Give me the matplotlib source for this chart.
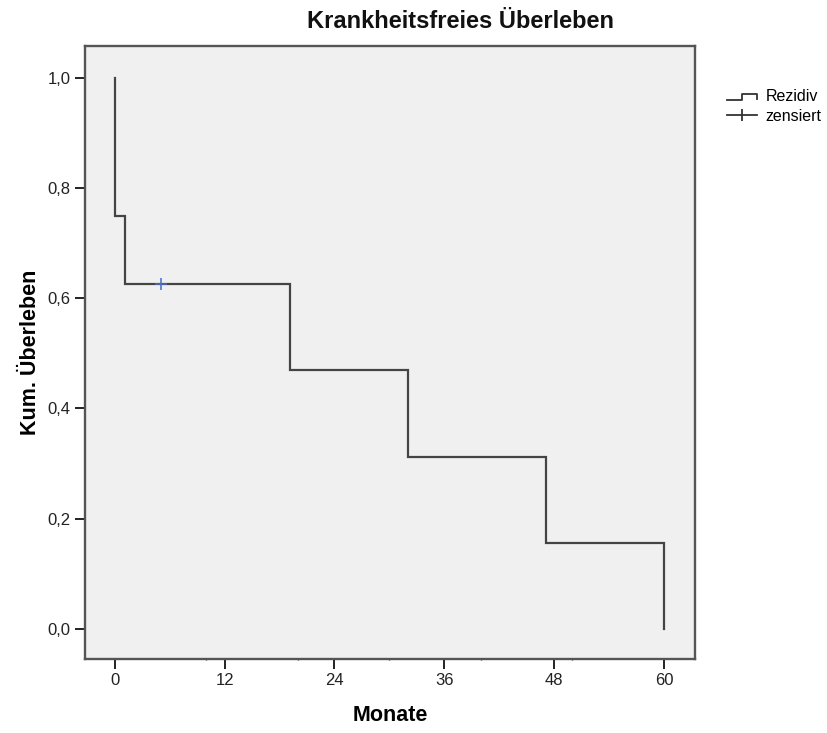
import numpy as np, matplotlib
matplotlib.use("Agg"); import matplotlib.pyplot as plt
from matplotlib.lines import Line2D
from matplotlib.legend_handler import HandlerBase

plt.rcParams["font.family"] = ["Liberation Sans", "DejaVu Sans"]

# Kaplan-Meier Stufen (Monate, Kum. Überleben)
times = [0, 0, 1.1, 19.1, 32, 47.1, 60]
surv = [1.0, 0.75, 0.625, 0.469, 0.3125, 0.156, 0.0]
cens_t = [5.0]
cens_s = [0.625]
xticks = [0, 12, 24, 36, 48, 60]
yticks = [0.0, 0.2, 0.4, 0.6, 0.8, 1.0]
LINE, CENS, BG, FRAME = "#444444", "#4a6cc8", "#f0f0f0", "#555555"


class StepHandler(HandlerBase):
    # Legendensymbol im SPSS-Stil: kleine Treppe
    def create_artists(self, legend, orig, xd, yd, w, h, fontsize, trans):
        xs = [xd, xd + w * 0.5, xd + w * 0.5, xd + w, xd + w]
        ys = [yd + h * 0.1, yd + h * 0.1, yd + h * 0.65, yd + h * 0.65, yd + h * 0.2]
        return [Line2D(xs, ys, color="#333333", lw=1.3, transform=trans)]


fig = plt.figure(figsize=(8.27, 7.33), dpi=100)
ax = fig.add_axes([84.7 / 827, 1 - 659 / 733, (695 - 84.7) / 827, (659 - 46) / 733])
ax.set_facecolor(BG)

# Treppenfunktion aus den Ereignissen
xs, ys = [times[0]], [surv[0]]
for i in range(1, len(times)):
    xs += [times[i], times[i]]
    ys += [surv[i - 1], surv[i]]
ax.plot(xs, ys, color=LINE, lw=1.6, solid_joinstyle="miter")
ax.plot(cens_t, cens_s, "+", color=CENS, ms=8, mew=1.1)

ax.set_xlim(-3.3, 63.4)
ax.set_ylim(-0.0545, 1.0575)
ax.set_xticks(xticks)
ax.set_xticklabels([str(t) for t in xticks])
ax.set_xticks([10, 20, 30, 40, 50], minor=True)
ax.set_yticks(yticks)
ax.set_yticklabels([f"{v:.1f}".replace(".", ",") for v in yticks])
ax.tick_params(axis="both", which="major", length=7, width=1.4, color="#222222",
               labelsize=12, labelcolor="#222222", pad=3)
ax.tick_params(axis="x", which="minor", length=2, width=1, direction="inout", color="#333333")
for s in ax.spines.values():
    s.set_color(FRAME); s.set_linewidth(1.7)

ax.set_xlabel("Monate", fontsize=15.5, fontweight="bold", labelpad=12)
ax.set_ylabel("Kum. Überleben", fontsize=15.5, fontweight="bold", labelpad=4.5)
fig.text(307 / 827, 1 - 21 / 733, "Krankheitsfreies Überleben", ha="left", va="center",
         fontsize=17, fontweight="bold", color="#111111")

h1 = Line2D([], [], color="#333333")
h2 = Line2D([], [], color="#333333", lw=1.3, marker="|", ms=8, mew=1.3)
fig.legend([h1, h2], ["Rezidiv", "zensiert"], handler_map={h1: StepHandler()},
           loc="upper left", bbox_to_anchor=(727 / 827, 1 - 89 / 733), frameon=False,
           fontsize=11.5, handlelength=1.9, handletextpad=0.5, labelspacing=0.3,
           borderaxespad=0, borderpad=0, numpoints=1)

fig.savefig("out.png", dpi=100, facecolor="white")
